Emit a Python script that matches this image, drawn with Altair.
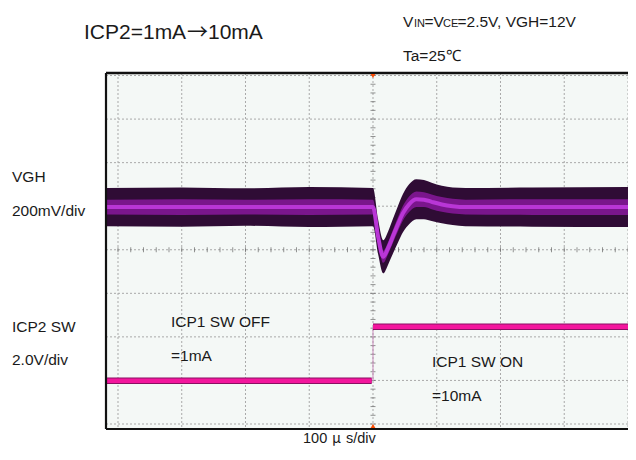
import altair as alt
import pandas as pd

# ---------------- data ----------------
# time in microseconds (100 us/div), level in screen divisions
vgh_t = [-419, -300, -200, -100, 0, 8, 16, 24, 31, 39, 47, 57, 68, 80, 92, 108, 125, 145, 250, 400]
vgh_c = [0.98, 0.98, 0.98, 0.98, 0.98, 0.30, -0.16, 0.05, 0.30, 0.58, 0.84, 1.05, 1.16, 1.15, 1.10, 1.04, 1.00, 0.98, 0.98, 0.98]
vgh_outer = [0.44, 0.45, 0.43, 0.46, 0.44, 0.40, 0.38, 0.38, 0.40, 0.42, 0.44, 0.46, 0.46, 0.45, 0.44, 0.43, 0.43, 0.44, 0.45, 0.46]
vgh_mid = [0.17, 0.18, 0.17, 0.18, 0.17, 0.15, 0.14, 0.14, 0.15, 0.16, 0.17, 0.18, 0.18, 0.17, 0.17, 0.17, 0.17, 0.17, 0.18, 0.18]

sw_t = [-419, -2, 0, 400]
sw_y = [-3.01, -3.01, -1.77, -1.77]
sw_seg = ["off", "off", "on", "on"]

grid_x = [-400, -300, -200, -100, 0, 100, 200, 300, 400]
grid_y = [-4, -3, -2, -1, 0, 1, 2, 3, 4]
minor_x = [k * 20 for k in range(-20, 21)]
minor_y = [k * 0.2 for k in range(-20, 21)]

X_DOM = [-418.8, 400]
Y_DOM = [-4.115, 4.058]
FONT = "Liberation Sans, Arial, Helvetica, sans-serif"
CJK = "Noto Sans CJK JP, sans-serif"

xs = alt.Scale(domain=X_DOM, nice=False, zero=False)
ys = alt.Scale(domain=Y_DOM, nice=False, zero=False)

vgh = pd.DataFrame({
    "t": vgh_t,
    "c": vgh_c,
    "o_top": [c + h for c, h in zip(vgh_c, vgh_outer)],
    "o_bot": [c - h for c, h in zip(vgh_c, vgh_outer)],
    "m_top": [c + h for c, h in zip(vgh_c, vgh_mid)],
    "m_bot": [c - h for c, h in zip(vgh_c, vgh_mid)],
})
sw = pd.DataFrame({"t": sw_t, "y": sw_y, "seg": sw_seg})

X = lambda f: alt.X(f, scale=xs, axis=None)
Y = lambda f: alt.Y(f, scale=ys, axis=None)

gx = alt.Chart(pd.DataFrame({"t": grid_x})).mark_rule(
    color="#a9a9a9", strokeWidth=1, strokeDash=[2, 2]).encode(x=X("t:Q"))
gy = alt.Chart(pd.DataFrame({"y": grid_y})).mark_rule(
    color="#a9a9a9", strokeWidth=1, strokeDash=[2, 2]).encode(y=Y("y:Q"))

tick_v = alt.Chart(pd.DataFrame({"y": minor_y, "t": [0] * len(minor_y)})).mark_tick(
    orient="horizontal", size=5, thickness=1, color="#666666").encode(x=X("t:Q"), y=Y("y:Q"))
tick_h = alt.Chart(pd.DataFrame({"t": minor_x, "y": [0] * len(minor_x)})).mark_tick(
    orient="vertical", size=5, thickness=1, color="#666666").encode(x=X("t:Q"), y=Y("y:Q"))

outer = alt.Chart(vgh).mark_area(color="#2f0c35", interpolate="monotone").encode(
    x=X("t:Q"), y=Y("o_top:Q"), y2="o_bot:Q")
mid = alt.Chart(vgh).mark_area(color="#7a168c", interpolate="monotone").encode(
    x=X("t:Q"), y=Y("m_top:Q"), y2="m_bot:Q")
bright = alt.Chart(vgh).mark_line(color="#b936d6", strokeWidth=4, interpolate="monotone").encode(
    x=X("t:Q"), y=Y("c:Q"))

edge = alt.Chart(pd.DataFrame({"t": [0], "a": [sw_y[1]], "b": [sw_y[2]]})).mark_rule(
    color="#c98abb", strokeWidth=1).encode(x=X("t:Q"), y=Y("a:Q"), y2="b:Q")
sw_dark = alt.Chart(sw).mark_line(color="#8a0f62", strokeWidth=6.5).encode(
    x=X("t:Q"), y=Y("y:Q"), detail="seg:N")
sw_pink = alt.Chart(sw).mark_line(color="#f3169d", strokeWidth=4.5).encode(
    x=X("t:Q"), y=Y("y:Q"), detail="seg:N")

one = pd.DataFrame({"a": [0]})
frame = [
    alt.Chart(one).mark_rule(color="#111111", strokeWidth=2.5).encode(y=alt.value(0)),
    alt.Chart(one).mark_rule(color="#111111", strokeWidth=2.2).encode(y=alt.value(356)),
    alt.Chart(one).mark_rule(color="#111111", strokeWidth=2.2).encode(x=alt.value(0)),
]
trig_top = alt.Chart(one).mark_point(shape="triangle-down", filled=True, size=22, color="#ff4b00", opacity=1).encode(
    x=alt.X("a:Q", scale=xs, axis=None), y=alt.value(3))
trig_bot = alt.Chart(one).mark_point(shape="triangle-up", filled=True, size=22, color="#ff4b00", opacity=1).encode(
    x=alt.X("a:Q", scale=xs, axis=None), y=alt.value(353))

OX, OY = 106, 73  # page position of plot origin


def label(text, px, py, size=15.5, font=FONT):
    return alt.Chart(pd.DataFrame({"s": [text]})).mark_text(
        align="left", baseline="alphabetic", font=font, fontSize=size, color="#1a1a1a").encode(
        text="s:N", x=alt.value(px - OX), y=alt.value(py - OY))


texts = [
    label("ICP2=1mA", 84, 39, 21),
    label("\u2192", 187, 39, 21, CJK),
    label("10mA", 208, 39, 21),
    label("V", 403, 27.3),
    label("IN", 414, 27.3, 11),
    label("=V", 424.5, 27.3),
    label("CE", 443, 27.3, 11),
    label("=2.5V, VGH=12V", 457.5, 27.3),
    label("Ta=25\u2103", 403, 61),
    label("VGH", 12, 182.3),
    label("200mV/div", 12, 215.7),
    label("ICP2 SW", 12, 331.7),
    label("2.0V/div", 12, 365),
    label("ICP1 SW OFF", 171, 326.7),
    label("=1mA", 171, 360.7),
    label("ICP1 SW ON", 432, 366.7),
    label("=10mA", 432, 400.7),
    label("100", 303, 443, 14.5),
    label("\u03bc", 332, 443, 14.5, CJK),
    label("s/div", 346, 443, 14.5),
]

chart = alt.layer(
    gx, gy, tick_v, tick_h, outer, mid, bright, edge, sw_dark, sw_pink,
    *frame, trig_top, trig_bot, *texts
).properties(
    width=522, height=356,
    padding={"left": 98, "top": 65, "right": 0, "bottom": 18},
    autosize=alt.AutoSizeParams(type="none"),
    background="white",
).configure_view(stroke=None, fill="#f4f8f6")

chart.save("out.html", embed_options={"renderer": "svg", "actions": False})
